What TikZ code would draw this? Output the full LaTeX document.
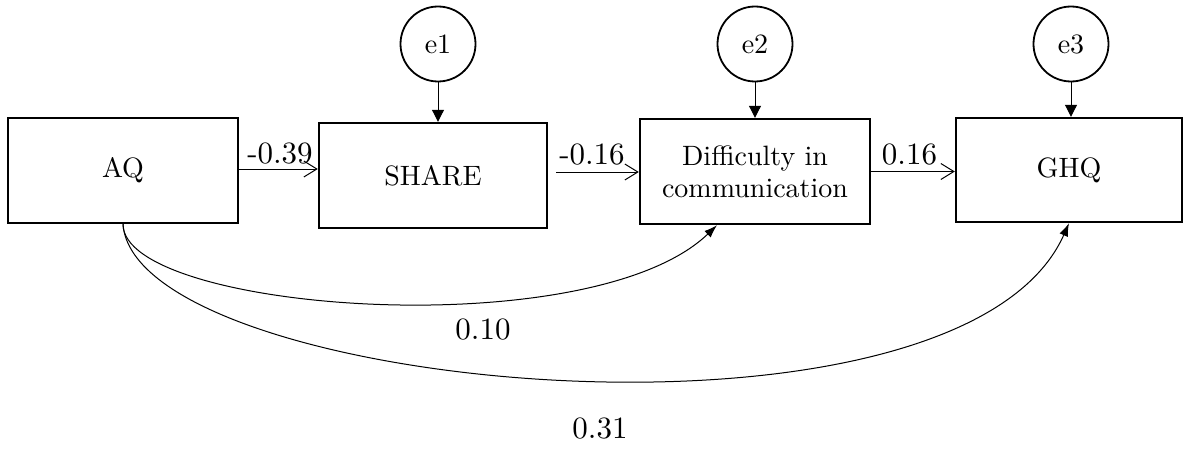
\documentclass[tikz,border=0pt]{standalone}
\usepackage{fontspec}
\setmainfont{lmroman10-regular.otf}
\usetikzlibrary{arrows.meta}
\begin{document}
\begin{tikzpicture}[x=1pt,y=-1pt,
  box/.style={draw, line width=2.4pt, align=center, inner sep=0pt, font=\fontsize{28}{32}\selectfont},
  err/.style={draw, circle, line width=1.8pt, minimum size=75pt, inner sep=0pt, font=\fontsize{28}{32}\selectfont},
  coef/.style={inner sep=0pt, font=\fontsize{31}{35}\selectfont},
  path/.style={line width=1pt, -{Straight Barb[length=13pt,width=16pt,line width=1pt]}},
  errarrow/.style={line width=1pt, -{Triangle[length=12pt,width=12pt]}},
  cov/.style={line width=1pt, -{Latex[length=13pt,width=9pt]}}]
\useasboundingbox (0,0) rectangle (1184,452);
\node[box, minimum width=230pt, minimum height=105pt] (AQ) at (123,170.5) {AQ};
\node[box, minimum width=228pt, minimum height=105pt] (SHARE) at (433,175.5) {SHARE};
\node[box, minimum width=230pt, minimum height=105pt] (Diff) at (755,171.5) {Difficulty in\\communication};
\node[box, minimum width=226pt, minimum height=104pt] (GHQ) at (1069,170) {GHQ};
\node[err] (e1) at (438,44) {e1};
\node[err] (e2) at (755,44) {e2};
\node[err] (e3) at (1071,44) {e3};
\draw[errarrow] (e1.south) -- (e1.south |- SHARE.north);
\draw[errarrow] (e2.south) -- (e2.south |- Diff.north);
\draw[errarrow] (e3.south) -- (e3.south |- GHQ.north);
\draw[path] ([yshift=1.5pt]AQ.east) -- ([yshift=1.5pt]AQ.east -| SHARE.west);
\draw[path, shorten <=8pt] ([yshift=-0.5pt]Diff.west -| SHARE.east) -- ([yshift=-0.5pt]Diff.west);
\draw[path] (Diff.east) -- (Diff.east -| GHQ.west);
\node[coef] (c1) at (280,153.5) {-0.39};
\node[coef] (c2) at (592,154.5) {-0.16};
\node[coef] (c3) at (909.5,154.5) {0.16};
\draw[cov] (AQ.south) .. controls +(0,87) and +(-127,122) .. ([xshift=-38pt]Diff.south);
\draw[cov] (AQ.south) .. controls +(12,167) and +(-110,247) .. (GHQ.south);
\node[coef] (c4) at (483,330) {0.10};
\node[coef] (c5) at (600,429) {0.31};
\end{tikzpicture}
\end{document}
